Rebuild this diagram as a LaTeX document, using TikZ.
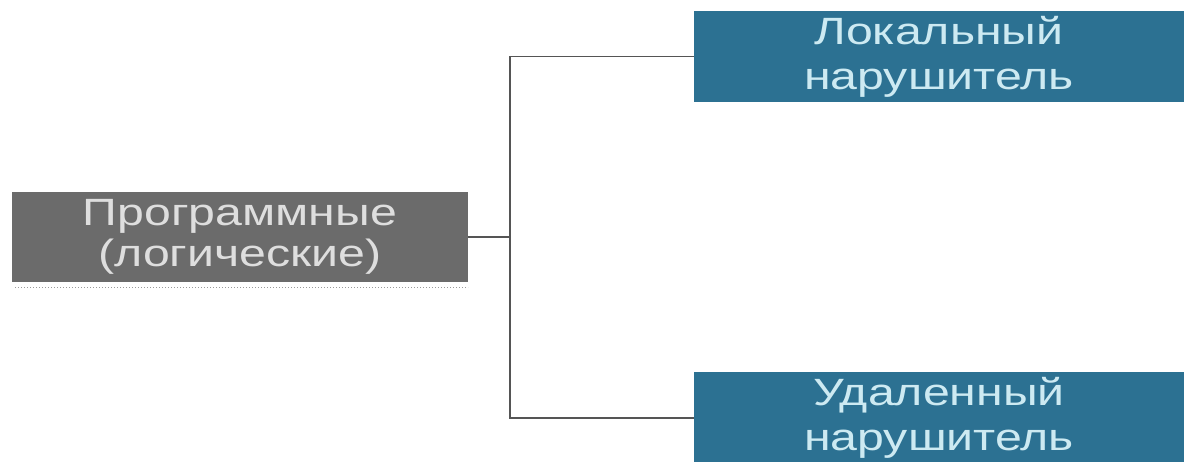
\documentclass[tikz,border=0pt]{standalone}
\usepackage{fontspec}
\setmainfont{Liberation Sans}
\newfontfamily\boxfont[FakeStretch=1.27]{Liberation Sans}
\definecolor{greyfill}{HTML}{6B6B6B}
\definecolor{greytext}{HTML}{DEDEDE}
\definecolor{bluefill}{HTML}{2C7192}
\definecolor{bluetext}{HTML}{CDEAF2}
\definecolor{linegrey}{HTML}{555555}
\begin{document}
\begin{tikzpicture}[x=1pt,y=1pt,
  basebox/.style={rectangle, inner sep=0pt, align=center},
  greybox/.style={basebox, fill=greyfill, text=greytext,
    font=\boxfont\fontsize{38}{41}\selectfont},
  bluebox/.style={basebox, fill=bluefill, text=bluetext,
    font=\boxfont\fontsize{38}{45}\selectfont},
  conn/.style={draw=linegrey, line width=1.8pt}]
\useasboundingbox (0,0) rectangle (1184,-462);
\clip (0,0) rectangle (1184,-462);
\fill[white] (0,0) rectangle (1184,-462);

% category box on the left
\node[greybox, minimum width=456, minimum height=90] (prog) at (240,-237)
  {Программные\\(логические)};
\draw[greytext!70!black, dotted, line width=1pt] (15,-288) -- (468,-288);

% the two kinds of intruder on the right
\node[bluebox, minimum width=490, minimum height=91] (loc) at (939,-56.5)
  {Локальный\\нарушитель};
\node[bluebox, minimum width=490, minimum height=91] (rem) at (939,-418)
  {Удаленный\\нарушитель};

% tree connector
\coordinate (jn) at (510,-237);
\draw[conn] (prog.east) -- (jn);
\draw[conn] (loc.west) -| (jn) |- (rem.west);
\end{tikzpicture}
\end{document}
